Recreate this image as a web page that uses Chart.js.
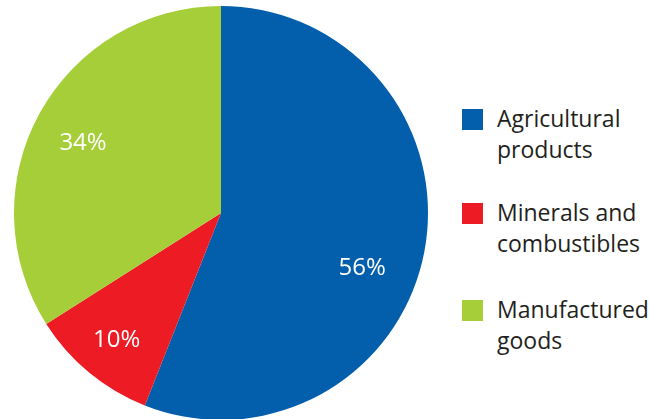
<!DOCTYPE html>
<html>
<head>
<meta charset="utf-8">
<script src="https://cdn.jsdelivr.net/npm/chart.js@4.4.0/dist/chart.umd.min.js"></script>
<style>
  html, body { margin: 0; padding: 0; width: 649px; height: 419px; overflow: hidden; background: #fff; }
  #wrap { position: absolute; left: 14px; top: 6px; width: 414px; height: 414px; }
  #legend { position: absolute; left: 462px; top: 0; font-family: "Open Sans", sans-serif; font-size: 23px; color: #231f20; }
  .item { position: absolute; left: 0; width: 190px; }
  .box { position: absolute; left: 0; top: 0; width: 21px; height: 21px; }
  .txt { position: absolute; left: 35px; top: -6px; line-height: 31px; white-space: nowrap; }
</style>
</head>
<body>
<div id="wrap"><canvas id="pie"></canvas></div>
<div id="legend"></div>
<script>
const categories = [['Agricultural', 'products'], ['Minerals and', 'combustibles'], ['Manufactured', 'goods']];
const shares = [56, 10, 34];
const colours = ['#035eab', '#ed1c24', '#a6ce39'];

// label placement: fraction of radius and angle nudge (degrees) per slice
const labelRadius = [0.73, 0.79, 0.75];
const labelNudge = [10, 0, -1.5];
const legendTops = [109, 203, 300];

const sliceLabels = {
  id: 'sliceLabels',
  afterDatasetsDraw(chart) {
    const ctx = chart.ctx;
    const arcs = chart.getDatasetMeta(0).data;
    ctx.save();
    ctx.fillStyle = '#fff';
    ctx.font = '24px "Open Sans", sans-serif';
    ctx.textAlign = 'center';
    ctx.textBaseline = 'middle';
    arcs.forEach((arc, i) => {
      const mid = (arc.startAngle + arc.endAngle) / 2 + labelNudge[i] * Math.PI / 180;
      const r = arc.outerRadius * labelRadius[i];
      ctx.fillText(shares[i] + '%', arc.x + Math.cos(mid) * r, arc.y + Math.sin(mid) * r + 1);
    });
    ctx.restore();
  }
};

const chart = new Chart(document.getElementById('pie').getContext('2d'), {
  type: 'pie',
  data: {
    labels: categories.map(c => c.join(' ')),
    datasets: [{
      data: shares,
      backgroundColor: colours,
      borderWidth: 0
    }]
  },
  options: {
    responsive: true,
    maintainAspectRatio: false,
    animation: false,
    layout: { padding: 0 },
    plugins: {
      legend: { display: false },
      tooltip: { enabled: false }
    }
  },
  plugins: [sliceLabels]
});

let legend = document.getElementById('legend');
categories.forEach((c, i) => {
  let item = document.createElement('div');
  item.className = 'item';
  item.style.top = legendTops[i] + 'px';
  item.innerHTML = '<div class="box" style="background:' + colours[i] + '"></div>' +
    '<div class="txt">' + c.join('<br>') + '</div>';
  legend.appendChild(item);
});
</script>
</body>
</html>
